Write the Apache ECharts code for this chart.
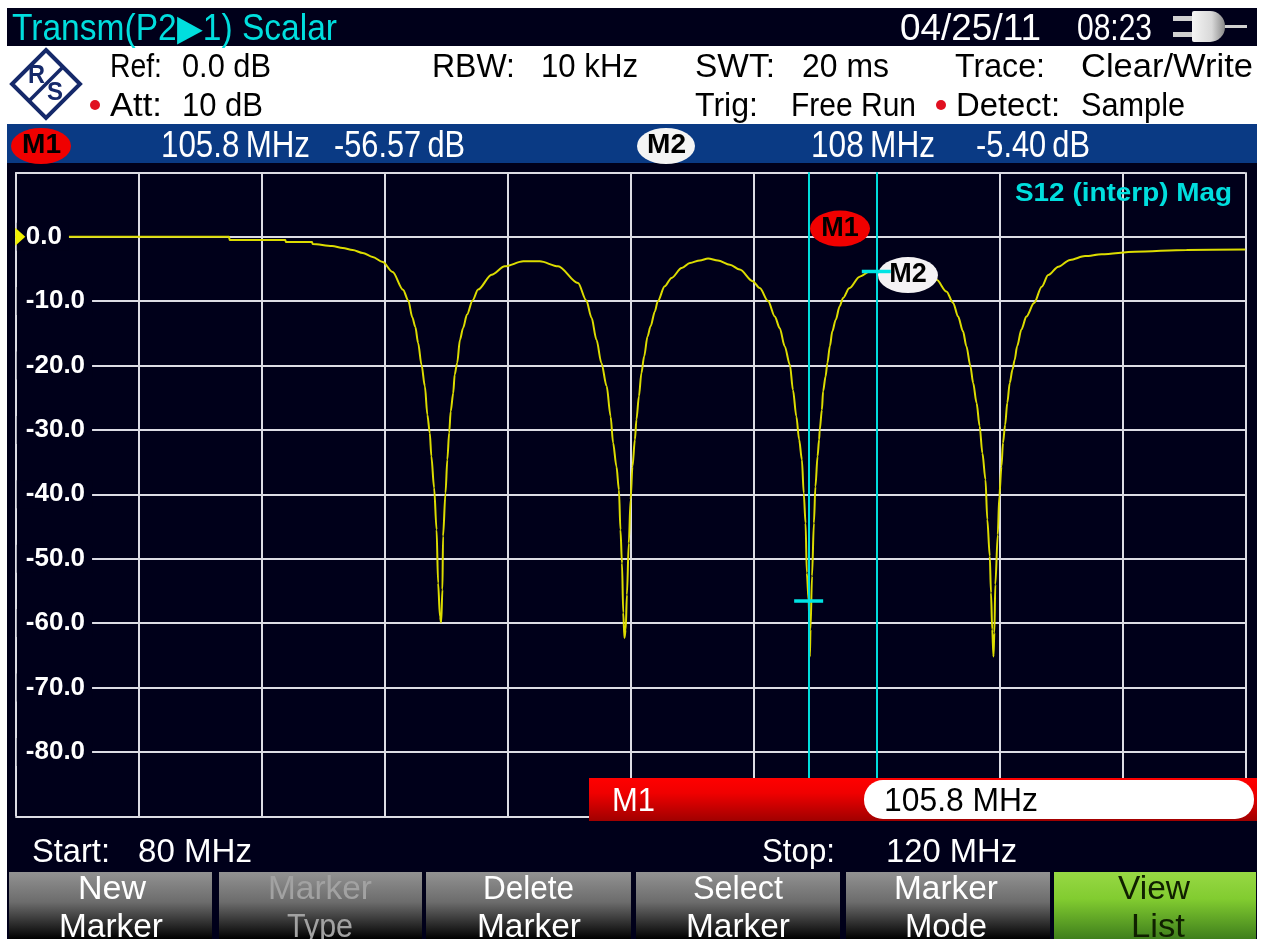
<!DOCTYPE html>
<html><head><meta charset="utf-8">
<style>html,body{margin:0;padding:0;background:#fff}#c{width:1265px;height:939px}#c canvas{filter:blur(0.4px)}</style>
<script src="https://cdn.jsdelivr.net/npm/echarts@6/dist/echarts.min.js"></script>
</head><body><div id="c"></div>
<script>
// ---- data ----
const traceFreq = [80,84,86.95,86.97,88.78,88.8,89.65,89.67,90.3,90.65,90.97,91.3,91.62,91.95,92.27,92.61,92.78,92.91,93.01,93.1,93.21,93.32,93.4,93.48,93.53,93.62,93.7,93.75,93.81,93.85,93.89,93.91,93.99,94.05,94.11,94.16,94.24,94.29,94.37,94.46,94.56,94.69,94.87,95.05,95.49,95.92,96.52,97.06,97.65,98.3,98.57,98.74,98.9,99.06,99.23,99.36,99.44,99.55,99.63,99.68,99.73,99.77,99.81,99.85,99.89,99.95,100.01,100.07,100.15,100.2,100.28,100.36,100.45,100.56,100.66,100.8,100.89,101.12,101.34,101.67,101.94,102.26,102.53,102.85,103.24,103.56,103.98,104.21,104.48,104.7,104.86,105.02,105.19,105.29,105.4,105.49,105.58,105.64,105.7,105.74,105.8,105.84,105.86,105.91,105.97,106.02,106.09,106.14,106.16,106.23,106.27,106.35,106.41,106.49,106.57,106.68,106.81,106.92,107.12,107.46,107.79,108,108.5,109,109.5,109.96,110.28,110.5,110.66,110.82,110.93,111.06,111.15,111.26,111.36,111.45,111.55,111.61,111.69,111.73,111.77,111.81,111.84,111.87,111.95,112,112.07,112.12,112.19,112.26,112.34,112.43,112.5,112.58,112.72,112.88,113.13,113.38,113.59,113.92,114.3,114.79,115.33,116.41,118.09,120];
const traceDb = [0,0,0,-0.5,-0.5,-0.82,-0.82,-1.13,-1.44,-1.75,-2.07,-2.53,-3.15,-3.93,-5.48,-8.23,-9.9,-12.5,-14.03,-16.5,-19.9,-23.24,-27.64,-30.5,-34.1,-39,-45.5,-53.8,-59,-59.9,-54.8,-46.5,-39.8,-34.6,-30.4,-27.1,-24.3,-21.4,-19.6,-16,-14.2,-12.1,-9.9,-8.2,-5.9,-4.6,-3.83,-3.83,-4.6,-7.2,-9.9,-12.6,-16,-19.6,-23.2,-27.9,-32,-35.7,-39.3,-45.5,-50.7,-58.4,-62.3,-61,-55.6,-47.6,-40.8,-35.7,-31.5,-28.4,-24.8,-21.2,-18.6,-15.5,-13.9,-11.6,-10.05,-7.7,-6.4,-4.87,-4.08,-3.68,-3.4,-3.7,-4.35,-5.1,-6.9,-7.97,-10,-12.4,-14.2,-17,-19.9,-23.8,-27.9,-31.5,-34.6,-39.8,-44.5,-52.2,-56.57,-65.2,-61,-52.7,-44.5,-38.8,-34.1,-31.5,-30,-26.9,-24,-21.7,-19.6,-17,-14.7,-12.9,-10.8,-9.5,-8,-6.2,-5.4,-5.4,-5.1,-5,-5.6,-6.7,-8.5,-10.3,-12.4,-14.7,-17,-20.1,-22.7,-25.8,-29.4,-33.6,-37.7,-43.9,-49.6,-55.3,-61,-65.2,-61.5,-54,-46.3,-40.3,-35.7,-32,-29.2,-25.8,-22.7,-20.6,-19.1,-17,-14.4,-12.4,-10.3,-7.76,-5.95,-4.66,-3.6,-3,-2.73,-2.33,-2.06,-2];
const yTickValues = [0,-10,-20,-30,-40,-50,-60,-70,-80];
const m1Freq = 105.8, m1Db = -56.57, m2Freq = 108, m2Db = -5.40;
const softKeys = [["New","Marker"],["Marker","Type"],["Delete","Marker"],["Select","Marker"],["Marker","Mode"],["View","List"]];

// ---- page furniture ----
const DARK='#00001a', CY='#00dede', FONT='"Liberation Sans"';
const ctx=document.createElement('canvas').getContext('2d');
const chrome=[];
function rect(x,y,w,h,fill,z,r){chrome.push({type:'rect',z:z,shape:{x,y,width:w,height:h,r:r||0},style:{fill}});}
function vg(stops){return {type:'linear',x:0,y:0,x2:0,y2:1,colorStops:stops.map(s=>({offset:s[0],color:s[1]}))};}
function T(text,x1,x2,cy,size,fill,weight,z){
  const font=(weight||'normal')+' '+size+'px '+FONT;ctx.font=font;
  const m=ctx.measureText(text).width;
  chrome.push({type:'text',x:x1,y:cy+2,z:z||20,scaleX:(x2-x1)/m,style:{text,font,fill,align:'left',verticalAlign:'middle'}});
}
function ell(cx,cy,rx,ry,fill,z){chrome.push({type:'circle',x:cx,y:cy,z:z,scaleX:rx/ry,shape:{cx:0,cy:0,r:ry},style:{fill}});}
rect(7,8,1250,931,DARK,-5);
rect(7,46,1250,78,'#ffffff',-4);
rect(7,124,1250,39,'#0a3a84',-4);
// header
T('Transm(P2\u25B61) Scalar',12,337,28,36,CY);
T('04/25/11',900,1041,28,36,'#fff');
T('08:23',1077,1152,28,36,'#fff');
// plug icon
rect(1173,16,19,5,'#d0d0d0',10);rect(1173,32,19,5,'#d0d0d0',10);rect(1225,25,22,3,'#d0d0d0',10);
chrome.push({type:'rect',z:11,shape:{x:1192,y:11,width:33,height:31,r:[2,15,15,2]},style:{fill:{type:'linear',x:0,y:0,x2:1,y2:0,colorStops:[{offset:0,color:'#f4f4f4'},{offset:.6,color:'#d8d8d8'},{offset:1,color:'#888'}]}}});
// settings rows
[['Ref:',110,162,66],['0.0 dB',182,271,66],['RBW:',432,515,66],['10 kHz',541,638,66],['SWT:',695,775,66],['20 ms',802,889,66],['Trace:',955,1045,66],['Clear/Write',1081,1253,66],
 ['Att:',110,162,105],['10 dB',182,263,105],['Trig:',695,758,105],['Free Run',791,916,105],['Detect:',956,1060,105],['Sample',1081,1185,105]]
 .forEach(a=>T(a[0],a[1],a[2],a[3],34,'#000'));
[95,941].forEach(x=>chrome.push({type:'circle',z:10,shape:{cx:x,cy:105,r:5},style:{fill:'#e01020'}}));
// logo
const NAVY='#15296a';
chrome.push({type:'polygon',z:10,shape:{points:[[46,50],[80,84],[46,118],[12,84]]},style:{fill:'none',stroke:NAVY,lineWidth:4}});
chrome.push({type:'line',z:10,shape:{x1:63,y1:67,x2:29,y2:101},style:{stroke:NAVY,lineWidth:3.5}});
T('R',28,45,74,26,NAVY,'bold',10);T('S',47,63,91,26,NAVY,'bold',10);
// marker readout band
ell(41,146,30,18,'#f00000',10);
T('M1',22,61,144,27,'#000','bold',11);
ell(666,146,29,18,'#f4f4f4',10);
T('M2',647,686,144,27,'#000','bold',11);
T('105.8\u2009MHz',161,310,145,36,'#fff');T('-56.57\u2009dB',334,465,145,36,'#fff');
T('108\u2009MHz',811,935,145,36,'#fff');T('-5.40\u2009dB',976,1090,145,36,'#fff');
// trace tag
T('S12 (interp) Mag',1015,1232,192,26,CY,'bold');
// marker entry bar
rect(589,778,668,43,vg([[0,'#ff0000'],[.35,'#f00000'],[1,'#a00000']]),30);
T('M1',612,655,800,33,'#fff','normal',31);
rect(864,780,390,39,'#ffffff',31,19);
T('105.8 MHz',884,1038,800,33,'#000','normal',32);
// span
T('Start:',32,110,851,33,'#fff');T('80 MHz',138,252,851,33,'#fff');
T('Stop:',762,835,851,33,'#fff');T('120 MHz',886,1017,851,33,'#fff');
// soft keys
const keyX=[[9,212],[219,422],[426,631],[636,840],[846,1050],[1054,1256]];
const keyW=[[[78,146],[59,163]],[[268,372],[287,353]],[[483,574],[477,581]],[[693,783],[686,790]],[[894,998],[905,987]],[[1118,1190],[1131,1185]]];
const gray=vg([[0,'#929292'],[.45,'#6c6c6c'],[1,'#000000']]);
const green=vg([[0,'#97d844'],[.4,'#82cc30'],[1,'#3f7f1c']]);
softKeys.forEach((k,i)=>{
  rect(keyX[i][0],872,keyX[i][1]-keyX[i][0],67,i==5?green:gray,5);
  const col=i==5?'#102000':(i==1?'#a2a2a2':'#fff');
  T(k[0],keyW[i][0][0],keyW[i][0][1],888,33,col,'normal',6);
  T(k[1],keyW[i][1][0],keyW[i][1][1],926,33,col,'normal',6);
});

// ---- chart ----
const chart=echarts.init(document.getElementById('c'),null,{renderer:'canvas',width:1265,height:939});
const GRID='#dcdce4';
chart.setOption({
  animation:false,
  backgroundColor:'transparent',
  graphic:{elements:chrome},
  grid:{left:15.3,top:172.3,width:1230,height:644,show:false,containLabel:false},
  xAxis:{type:'value',min:80,max:120,interval:4,axisLabel:{show:false},axisTick:{show:false},
    axisLine:{show:false},splitLine:{show:true,lineStyle:{color:GRID,width:2}}},
  yAxis:[
   {type:'value',min:-90,max:10,interval:10,axisLabel:{show:false},axisTick:{show:false},axisLine:{show:false},
    splitLine:{show:true,lineStyle:{color:GRID,width:2}}},
   {type:'value',position:'left',min:-90,max:10,interval:10,z:6,axisTick:{show:false},axisLine:{show:false},splitLine:{show:false},
    axisLabel:{inside:true,margin:1.5,customValues:yTickValues,formatter:v=>v.toFixed(1),
      color:'#fff',fontFamily:'Liberation Sans',fontWeight:'bold',fontSize:26,backgroundColor:DARK,padding:[2,7,0,9]}}
  ],
  series:[{
    type:'line',yAxisIndex:0,showSymbol:false,symbol:'none',smooth:0.3,smoothMonotone:'x',z:3,
    lineStyle:{color:'#dcdc00',width:2},
    data:traceFreq.map((f,i)=>[f,traceDb[i]]),
    markLine:{silent:true,symbol:'none',label:{show:false},lineStyle:{color:'#00dcdc',width:2,type:'solid'},
      data:[{xAxis:m1Freq},{xAxis:m2Freq}]},
    markPoint:{silent:true,z:7,data:[
      {name:'M1',coord:[106.82,1.27],symbol:'circle',symbolSize:[60,36],itemStyle:{color:'#f00000'},
        label:{show:true,position:'inside',formatter:'M1',color:'#000',fontFamily:'Liberation Sans',fontWeight:'bold',fontSize:27}},
      {name:'M2',coord:[109.03,-5.95],symbol:'circle',symbolSize:[60,36],itemStyle:{color:'#f4f2f4'},
        label:{show:true,position:'inside',formatter:'M2',color:'#000',fontFamily:'Liberation Sans',fontWeight:'bold',fontSize:27}},
      {name:'t1',coord:[m1Freq,m1Db],symbol:'rect',symbolSize:[29,3.5],itemStyle:{color:'#00e4e4'},label:{show:false}},
      {name:'t2',coord:[m2Freq,m2Db],symbol:'rect',symbolSize:[29,3.5],itemStyle:{color:'#00e4e4'},label:{show:false}},
      {name:'ref',coord:[80,0],symbol:'triangle',symbolRotate:-90,symbolSize:[18,10],symbolOffset:[5,0],itemStyle:{color:'#f0f000'},label:{show:false}}
    ]}
  }]
});
</script></body></html>
